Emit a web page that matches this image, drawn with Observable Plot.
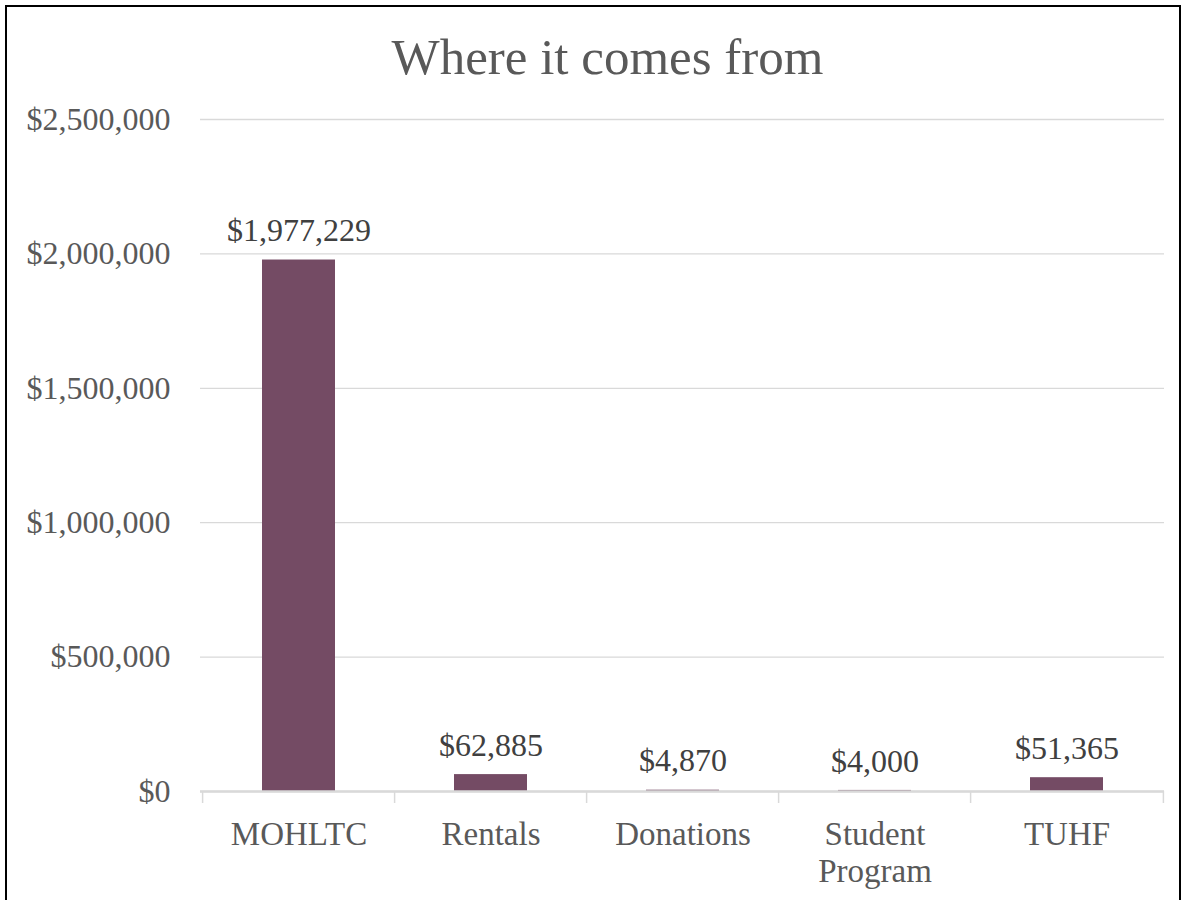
<!DOCTYPE html>
<html><head><meta charset="utf-8">
<script src="https://cdn.jsdelivr.net/npm/d3@7"></script>
<script src="https://cdn.jsdelivr.net/npm/@observablehq/plot@0.6"></script>
<style>
body{margin:0;background:#fff;width:1183px;height:900px;overflow:hidden;position:relative;font-family:"Liberation Serif",serif;}
#frame{position:absolute;left:5px;top:5px;width:1176px;height:1000px;border:2px solid #000;box-sizing:border-box;}
#title{position:absolute;left:0;top:32px;width:1183px;padding-left:32px;box-sizing:border-box;text-align:center;font-size:51px;line-height:51px;color:#595959;}
#chart{position:absolute;left:0;top:100px;}
</style></head><body>
<div id="frame"></div>
<div id="title">Where it comes from</div>
<div id="chart"></div>
<script>
const categories = ["MOHLTC", "Rentals", "Donations", "Student Program", "TUHF"];
const values = [1977229, 62885, 4870, 4000, 51365];
const yTicks = [0, 500000, 1000000, 1500000, 2000000, 2500000];

const data = categories.map((c, i) => ({category: c, value: values[i]}));
const W = 1183, H = 800, mL = 200, mR = 19, mT = 19, mB = 109;
const step = (W - mL - mR) / categories.length;
const money = d => "$" + d3.format(",")(d);

const plot = Plot.plot({
  width: W, height: H,
  marginLeft: mL, marginRight: mR, marginTop: mT, marginBottom: mB,
  style: {fontFamily: "'Liberation Serif', serif", fontSize: "32px", background: "transparent", overflow: "visible"},
  x: {domain: categories, paddingInner: 0.62, paddingOuter: 0.31, label: null},
  y: {domain: [0, 2500000], label: null},
  marks: [
    Plot.gridY(yTicks, {stroke: "#d9d9d9", strokeOpacity: 1, strokeWidth: 1.3}),
    Plot.barY(data, {x: "category", y: "value", fill: "#744B64"}),
    Plot.ruleY([0], {stroke: "#d9d9d9", strokeWidth: 2.5}),
    Plot.axisY(yTicks, {tickSize: 0, tickPadding: 30, tickFormat: money, fill: "#595959", fontSize: 32, label: null}),
    Plot.axisX(categories, {tickSize: 12, tickFormat: () => "", dx: -step / 2, stroke: "#d9d9d9", strokeWidth: 1.5, label: null}),
    Plot.axisX([categories[categories.length - 1]], {tickSize: 12, tickFormat: () => "", dx: step / 2, stroke: "#d9d9d9", strokeWidth: 1.5, label: null}),
    Plot.axisX(categories, {tickSize: 0, tickPadding: 28, tickFormat: d => d.replace(" ", "\n"), fill: "#595959", fontSize: 33, lineHeight: 1.1, label: null}),
    Plot.text(data, {x: "category", y: "value", text: d => money(d.value), dy: -29, fill: "#404040", fontSize: 32})
  ]
});
document.getElementById("chart").appendChild(plot);
</script>
</body></html>
